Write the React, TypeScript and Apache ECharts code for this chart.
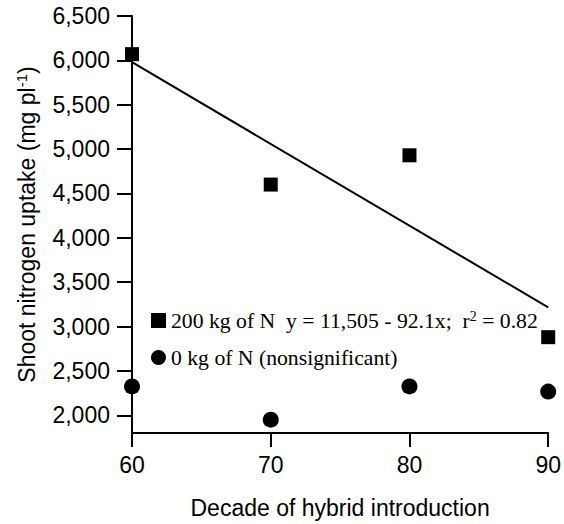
import React, { useEffect, useRef } from "react";
import * as echarts from "echarts";

// Decade of hybrid introduction (x) and shoot N uptake, mg per plant
const decades = [60, 70, 80, 90];
const uptakeHighN = [6070, 4600, 4930, 2880]; // 200 kg of N
const uptakeZeroN = [2325, 1950, 2325, 2267]; // 0 kg of N
const yTicks = [2000, 2500, 3000, 3500, 4000, 4500, 5000, 5500, 6000, 6500];

// Regression for the 200 kg N treatment: y = 11,505 - 92.1x
const fitIntercept = 11505;
const fitSlope = -92.1;

const SANS = "'Liberation Sans', Arial, Helvetica, sans-serif";
const SERIF = "'Liberation Serif', 'Times New Roman', Times, serif";

const fmtThousands = (v: number) => v.toLocaleString("en-US");

export default function App() {
  const ref = useRef<HTMLDivElement>(null);

  useEffect(() => {
    if (!ref.current) return;
    const chart = echarts.init(ref.current, null, { renderer: "svg" });

    const fitX = [decades[0], decades[decades.length - 1]];
    const fitLine = fitX.map((x) => [x, fitIntercept + fitSlope * x]);

    chart.setOption({
      animation: false,
      backgroundColor: "#ffffff",
      grid: { left: 132, right: 11, top: 16, bottom: 85, containLabel: false },
      xAxis: {
        type: "value",
        min: 60,
        max: 90,
        interval: 10,
        name: "Decade of hybrid introduction",
        nameLocation: "middle",
        nameGap: 63,
        nameTextStyle: { fontFamily: SANS, fontSize: 23, color: "#000" },
        axisLine: { lineStyle: { color: "#000", width: 2 } },
        axisTick: { show: true, inside: false, length: 14, lineStyle: { color: "#000", width: 2 } },
        axisLabel: { fontFamily: SANS, fontSize: 23, color: "#000", margin: 20 },
        splitLine: { show: false },
      },
      yAxis: {
        type: "value",
        min: 1800,
        max: 6500,
        name: "Shoot nitrogen uptake (mg pl{sup|-1})",
        nameLocation: "middle",
        nameGap: 93,
        nameRotate: 90,
        nameTextStyle: {
          fontFamily: SANS,
          fontSize: 23,
          color: "#000",
          rich: { sup: { fontFamily: SANS, fontSize: 15, color: "#000", verticalAlign: "top", padding: [0, 0, 10, 0] } },
        },
        axisLine: { show: true, lineStyle: { color: "#000", width: 2 } },
        axisTick: {
          show: true,
          inside: false,
          length: 15,
          customValues: yTicks,
          lineStyle: { color: "#000", width: 2 },
        },
        axisLabel: {
          fontFamily: SANS,
          fontSize: 23,
          color: "#000",
          margin: 22,
          customValues: yTicks,
          formatter: (v: number) => fmtThousands(v),
        },
        splitLine: { show: false },
      },
      legend: {
        show: true,
        orient: "vertical",
        left: 146,
        top: 304,
        itemWidth: 15,
        itemHeight: 15,
        itemGap: 14,
        data: [
          { name: "200 kg of N", icon: "rect", itemStyle: { color: "#000", opacity: 1 } },
          { name: "0 kg of N", icon: "circle", itemStyle: { color: "#000", opacity: 1 } },
        ],
        formatter: (name: string) =>
          name === "200 kg of N"
            ? "200 kg of N  y = 11,505 - 92.1x;  r{sup|2} = 0.82"
            : "0 kg of N (nonsignificant)",
        textStyle: {
          fontFamily: SERIF,
          fontSize: 21.7,
          color: "#000",
          lineHeight: 23,
          rich: { sup: { fontFamily: SERIF, fontSize: 14, color: "#000", verticalAlign: "top", padding: [0, 0, 10, 0] } },
        },
      },
      series: [
        {
          name: "fit",
          type: "line",
          data: fitLine,
          showSymbol: false,
          symbol: "none",
          lineStyle: { color: "#000", width: 2 },
          silent: true,
          z: 1,
        },
        {
          name: "200 kg of N",
          type: "scatter",
          symbol: "rect",
          symbolSize: 14,
          itemStyle: { color: "#000", opacity: 1 },
          data: decades.map((d, i) => [d, uptakeHighN[i]]),
          z: 3,
        },
        {
          name: "0 kg of N",
          type: "scatter",
          symbol: "circle",
          symbolSize: 16,
          itemStyle: { color: "#000", opacity: 1 },
          data: decades.map((d, i) => [d, uptakeZeroN[i]]),
          z: 3,
        },
      ],
    });

    return () => chart.dispose();
  }, []);

  return (
    <div
      ref={ref}
      style={{ position: "fixed", left: 0, top: 0, width: 564, height: 524, background: "#fff" }}
    />
  );
}
